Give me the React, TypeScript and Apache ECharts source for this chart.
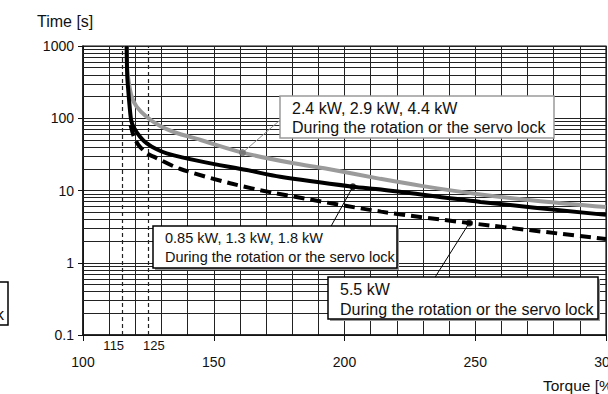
import React, { useEffect, useRef } from 'react';
import * as echarts from 'echarts';

// ---- axis ticks / labels ----
const X_LABELS = [100, 150, 200, 250, 300];
const X_SMALL_LABELS = [115, 125];
const Y_LABELS = [0.1, 1, 10, 100, 1000];
const Y_MINOR = [
  0.2, 0.3, 0.4, 0.5, 0.6, 0.7, 0.8, 0.9,
  2, 3, 4, 5, 6, 7, 8, 9,
  20, 30, 40, 50, 60, 70, 80, 90,
  200, 300, 400, 500, 600, 700, 800, 900,
];
const LIMIT_TORQUES = [115, 125];

// ---- series (torque %, time s) ----
const NAME_A = '2.4 kW, 2.9 kW, 4.4 kW';
const CURVE_A = [
  [116.7, 1000], [116.9, 500], [117.6, 300], [118.6, 200], [120.5, 145],
  [124.4, 104], [129.5, 78], [135, 64], [145, 50], [161, 33.4],
  [180, 24], [193.3, 20], [213.7, 14.5], [230, 11.5], [252, 8.8],
  [275, 7.1], [300, 5.9],
];
const NAME_B = '0.85 kW, 1.3 kW, 1.8 kW';
const CURVE_B = [
  [116.7, 1000], [116.9, 400], [117.3, 245], [117.8, 150], [118.4, 95],
  [119.3, 76], [121.8, 55.6], [124.4, 45], [128, 37.5], [132, 32.7],
  [145, 25.3], [162.6, 19.2], [175.4, 15.5], [203.2, 11.3], [214, 10.3],
  [252, 6.95], [300, 4.6],
];
const NAME_C = '5.5 kW';
const CURVE_C = [
  [118.2, 80], [119.5, 55], [121.2, 42.7], [124.4, 32.7], [127, 29.4],
  [137, 20], [156.3, 12.6], [172.8, 9.3], [214, 5.1], [247.7, 3.55],
  [300, 2.13],
];
const SUB_LABEL = 'During the rotation or the servo lock';

// annotation points on curves and leader ends
const DOTS = [[161, 33.4], [203.2, 11.3], [247.7, 3.55]];
const LEADER_ENDS = [[175.4, 94.6], [194.5, 3.03], [234.7, 0.636]];

const FONT = '"Liberation Sans", Arial, Helvetica, sans-serif';

function textEl(text: string, x: number, y: number, size: number, align = 'left', z = 102) {
  return {
    type: 'text',
    x,
    y,
    z,
    style: {
      text,
      fontSize: size,
      fontFamily: FONT,
      fill: '#111',
      align,
      textAlign: align,
      verticalAlign: 'middle',
      textVerticalAlign: 'middle',
    },
  };
}

function box(x: number, y: number, w: number, h: number, stroke: string, shadow: boolean) {
  const els: any[] = [];
  if (shadow) {
    els.push({
      type: 'rect',
      z: 99,
      shape: { x: x + 2, y: y + 2, width: w, height: h },
      style: { fill: '#9a9a9a', stroke: 'none' },
    });
  }
  els.push({
    type: 'rect',
    z: 100,
    shape: { x, y, width: w, height: h },
    style: { fill: '#fff', stroke, lineWidth: 1.5 },
  });
  return els;
}

export default function App() {
  const ref = useRef<HTMLDivElement>(null);
  useEffect(() => {
    if (!ref.current) return;
    const chart = echarts.init(ref.current, null, { renderer: 'svg' });
    const gridColor = '#222';
    const option: any = {
      animation: false,
      grid: {
        left: 83, right: 2, top: 46, bottom: 59,
        containLabel: false, outerBoundsMode: 'none',
        show: true, borderColor: '#111', borderWidth: 1.2, backgroundColor: '#fff',
      },
      xAxis: [
        {
          type: 'value', min: 100, max: 300, interval: 10, position: 'bottom',
          axisLine: { show: true, onZero: false, lineStyle: { color: '#111', width: 1.5 } },
          axisTick: { show: false },
          axisLabel: {
            margin: 20, fontSize: 14, color: '#111', fontFamily: FONT,
            formatter: (v: number) => (X_LABELS.includes(v) ? String(v) : ''),
          },
          splitLine: { show: true, lineStyle: { color: gridColor, width: 1 } },
        },
        {
          type: 'value', min: 100, max: 300, interval: 50, position: 'bottom',
          axisLine: { show: false, onZero: false },
          axisTick: { show: true, length: 6, lineStyle: { color: '#111', width: 1 } },
          axisLabel: { show: false },
          splitLine: { show: false },
        },
        {
          type: 'value', min: 100, max: 300, interval: 5, position: 'bottom',
          axisLine: { show: false, onZero: false },
          axisTick: { show: false },
          splitLine: { show: false },
          axisLabel: {
            margin: 4, fontSize: 13, color: '#111', fontFamily: FONT,
            formatter: (v: number) =>
              X_SMALL_LABELS.includes(v) ? (v === X_SMALL_LABELS[0] ? `{l|${v}}` : `{r|${v}}`) : '',
            rich: {
              l: { fontSize: 13, fontFamily: FONT, color: '#111', padding: [0, 17, 0, 0] },
              r: { fontSize: 13, fontFamily: FONT, color: '#111', padding: [0, 0, 0, 11] },
            },
          },
        },
      ],
      yAxis: {
        type: 'log', logBase: 10, min: 0.1, max: 1000,
        axisLine: { show: true, onZero: false, lineStyle: { color: '#111', width: 1.5 } },
        axisTick: { show: true, length: 5, lineStyle: { color: '#111' } },
        axisLabel: {
          margin: 9, fontSize: 14, color: '#111', fontFamily: FONT,
          formatter: (v: number) => {
            const m = Y_LABELS.find((t) => Math.abs(t - v) / t < 1e-6);
            return m !== undefined ? String(m) : '';
          },
        },
        splitLine: { show: true, lineStyle: { color: gridColor, width: 1 } },
      },
      series: [
        {
          type: 'line', name: NAME_A, data: CURVE_A, symbol: 'none', smooth: 0.3,
          lineStyle: { color: '#9b9b9b', width: 4 }, z: 3,
          markLine: {
            silent: true, z: 1, symbol: ['none', 'none'], label: { show: false },
            lineStyle: { type: 'solid', color: gridColor, width: 1 },
            emphasis: { disabled: true },
            data: [
              ...Y_MINOR.map((v) => ({ yAxis: v })),
              ...LIMIT_TORQUES.map((v) => ({ xAxis: v, lineStyle: { type: [4, 3], color: '#222', width: 1.2 } })),
            ],
          },
        },
        {
          type: 'line', name: NAME_C, data: CURVE_C, symbol: 'none', smooth: 0.3,
          lineStyle: { color: '#000', width: 4, type: [11, 6], cap: 'butt' }, z: 3,
        },
        {
          type: 'line', name: NAME_B, data: CURVE_B, symbol: 'none', smooth: 0.3,
          lineStyle: { color: '#000', width: 4 }, z: 4,
        },
        {
          type: 'scatter', data: DOTS.map((d, i) => ({ value: d, itemStyle: { color: i === 0 ? '#6e6e6e' : '#000' } })),
          symbolSize: 7, z: 6, silent: true,
          markLine: {
            silent: true, z: 5, symbol: ['none', 'none'], label: { show: false },
            emphasis: { disabled: true },
            data: DOTS.map((d, i) => [
              { coord: d, lineStyle: { type: 'solid', width: 1, color: i === 0 ? '#8a8a8a' : '#000' } },
              { coord: LEADER_ENDS[i] },
            ]),
          },
        },
      ],
      graphic: [
        textEl('Time [s]', 37, 21, 16),
        textEl('Torque [%]', 543, 385, 15.5),
        ...box(280, 96, 274, 42, '#9a9a9a', false),
        textEl(NAME_A, 292, 108.5, 16),
        textEl(SUB_LABEL, 292, 127.5, 16),
        ...box(153, 226, 244, 42, '#000', true),
        textEl(NAME_B, 165, 238, 14.5),
        textEl(SUB_LABEL, 165, 257, 14.5),
        ...box(328, 277, 270, 42, '#000', true),
        textEl(NAME_C, 340, 289, 16),
        textEl(SUB_LABEL, 340, 309, 16),
        ...box(-260, 282, 268, 43, '#000', false),
        textEl(SUB_LABEL, 4, 314, 16, 'right'),
      ],
    };
    chart.setOption(option);
    return () => chart.dispose();
  }, []);
  return (
    <div
      ref={ref}
      style={{ position: 'absolute', left: 0, top: 0, width: 608, height: 394, background: '#fff' }}
    />
  );
}
